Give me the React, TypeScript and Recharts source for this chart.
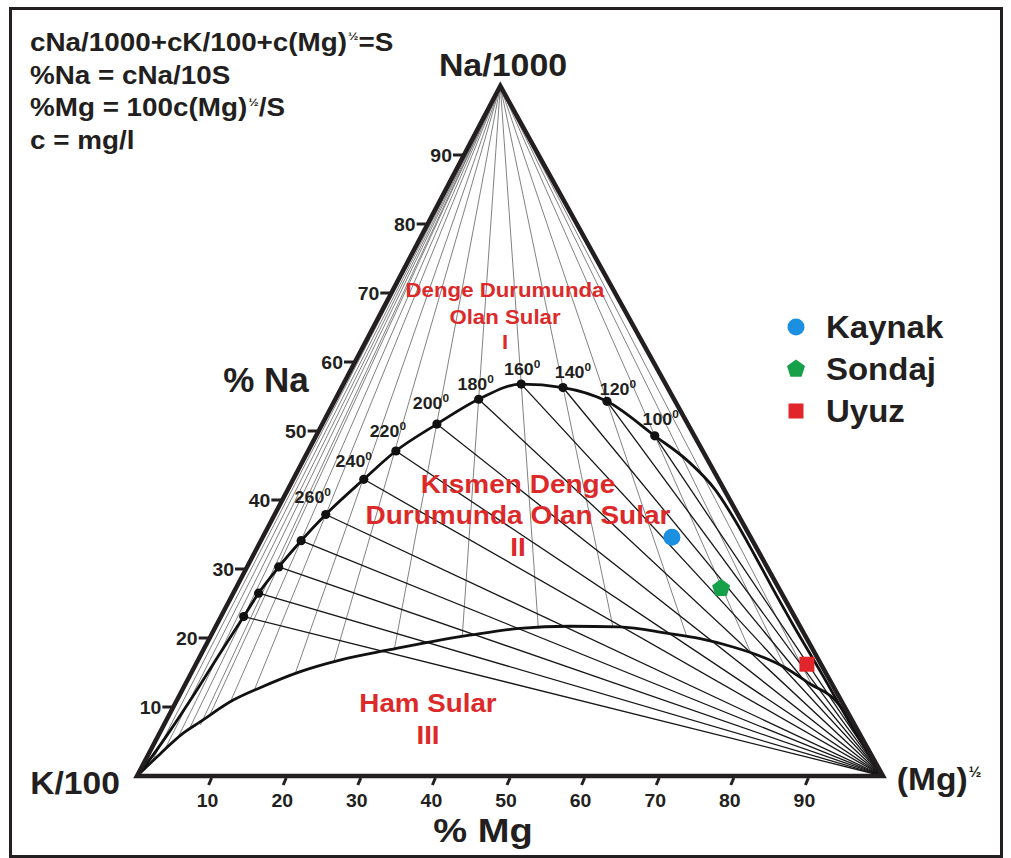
import React from 'react';
import { ScatterChart, Scatter, XAxis, YAxis } from 'recharts';

// Giggenbach Na-K-Mg diagram. x runs along the % Mg scale, y along the % Na scale.
const apex = { x: 48.7, y: 100 };
const cornerK = { x: 0, y: 0 };
const cornerMg = { x: 100, y: 0 };

const mgTicks = [10, 20, 30, 40, 50, 60, 70, 80, 90];
const naTicks = [10, 20, 30, 40, 50, 60, 70, 80, 90];

// full equilibrium line, temperature points (°C)
const eqTemps = [340, 320, 300, 280, 260, 240, 220, 200, 180, 160, 140, 120, 100];
const eqMg = [14.3, 16.3, 19.0, 22.0, 25.3, 30.4, 34.7, 40.2, 45.8, 51.5, 57.1, 63.0, 69.4];
const eqNa = [23.1, 26.5, 30.3, 34.1, 37.9, 43.0, 47.1, 51.0, 54.6, 56.8, 56.3, 54.3, 49.3];
const labelledTemps = [260, 240, 220, 200, 180, 160, 140, 120, 100];

// tails of the full equilibrium line towards K and Mg corners
const eqLowMg = [0, 2.0, 4.4, 7.4, 10.9];
const eqLowNa = [0, 2.8, 6.5, 11.4, 17.4];
const eqHighMg = [73.9, 77.5, 80.2, 82.8, 85.3, 87.9, 91.8, 95.5, 100];
const eqHighNa = [45.6, 41.5, 37.0, 32.0, 27.0, 22.0, 14.8, 7.8, 0];

// partial equilibrium boundary (immature waters)
const immMg = [0, 3.1, 6.2, 8.4, 12.9, 16.5, 21.8, 27.2, 33.9, 40.6, 44.6, 51.3, 58.0, 64.7, 71.0, 75.5, 79.9, 83.5, 86.9, 90.3, 93.3, 96.9, 100];
const immNa = [0, 3.2, 6.2, 7.8, 11.0, 12.8, 15.1, 16.8, 18.3, 19.7, 20.4, 21.4, 21.7, 21.6, 20.7, 19.9, 18.7, 17.4, 15.7, 13.3, 11.3, 5.9, 0];

// Na-K isotherms from the Na corner, ending on the immature water boundary
const tknEndMg = [2.0, 3.7, 5.4, 7.0, 8.5, 9.7, 12.5, 15.7, 21.2, 26.4, 34.5, 43.6, 53.8, 63.8, 73.7, 82.3, 86.9, 90.4];
const tknEndNa = [2.1, 3.8, 5.4, 6.8, 7.4, 8.7, 10.7, 12.4, 14.8, 16.6, 18.4, 20.2, 21.4, 21.6, 20.2, 17.8, 15.7, 13.3];

// samples
const sampleNames = ['Kaynak', 'Sondaj', 'Uyuz'];
const sampleMg = [71.7, 78.3, 89.8];
const sampleNa = [34.6, 27.2, 16.2];
const sampleColors = ['#1b8fe0', '#17a04a', '#e0262a'];
const sampleShapes = ['circle', 'pentagon', 'square'];

const FONT = '"Liberation Sans", Arial, sans-serif';
const ink = '#231f20';
const red = '#dc2a2a';

// temperature label offsets from their points (px)
const labelOffsets: Record<number, [number, number]> = {
    100: [6, -17], 120: [11, -12], 140: [10, -16], 160: [1, -15], 180: [-3, -15],
    200: [-6, -21], 220: [-8, -20], 240: [-10, -18], 260: [-13, -17],
};

const pts = (xs: number[], ys: number[]) => xs.map((x, i) => ({ x, y: ys[i] }));
const noDot = () => <g />;

const MarkerShape = ({ cx, cy, kind, color }: any) => {
    if (kind === 'circle') return <circle cx={cx} cy={cy} r={8.5} fill={color} />;
    if (kind === 'square') return <rect x={cx - 7.5} y={cy - 7.5} width={15} height={15} fill={color} />;
    const r = 9.5;
    const p = [0, 1, 2, 3, 4].map(k => {
        const a = -Math.PI / 2 + (k * 2 * Math.PI) / 5;
        return `${cx + r * Math.cos(a)},${cy + r * Math.sin(a)}`;
    }).join(' ');
    return <polygon points={p} fill={color} />;
};

const MgTick = ({ x, y, payload }: any) => (
    <g>
        <line x1={x} y1={y + 2} x2={x - 3} y2={y + 9} stroke={ink} strokeWidth={3} />
        <text transform={`translate(${x - 4},${y + 31}) scale(1.08,1)`} textAnchor="middle" fontFamily={FONT} fontWeight={700} fontSize={18} fill={ink}>{payload.value}</text>
    </g>
);

const NaTick = ({ cx, cy, payload }: any) => (
    <g>
        <line x1={cx - 11} y1={cy} x2={cx - 1} y2={cy} stroke={ink} strokeWidth={3} />
        <text transform={`translate(${cx - 12},${cy + 6.5}) scale(1.08,1)`} textAnchor="end" fontFamily={FONT} fontWeight={700} fontSize={18} fill={ink}>{payload.v}</text>
    </g>
);

const TempDot = ({ cx, cy, payload }: any) => {
    const off = labelOffsets[payload.t];
    return (
        <g>
            <circle cx={cx} cy={cy} r={4.6} fill="#111" />
            {off && labelledTemps.includes(payload.t) && (
                <text transform={`translate(${cx + off[0]},${cy + off[1] + 6}) scale(1.08,1)`} textAnchor="middle" fontFamily={FONT} fontWeight={700} fontSize={16.5} fill={ink}>
                    {payload.t}<tspan fontSize={11} dy={-7}>0</tspan>
                </text>
            )}
        </g>
    );
};

const Txt = ({ x, y, size, sx = 1, color = ink, children }: any) => (
    <div style={{
        position: 'absolute', left: x, top: y, transform: `translate(-50%,-50%) scaleX(${sx})`,
        fontSize: size, fontWeight: 700, color, whiteSpace: 'nowrap', lineHeight: 1, fontFamily: FONT,
    }}>{children}</div>
);

const Half = () => <sup style={{ fontSize: '0.45em', verticalAlign: '0.9em', marginLeft: 1 }}>½</sup>;

export default function App() {
    const eqLine = [...pts(eqLowMg, eqLowNa), ...pts(eqMg, eqNa), ...pts(eqHighMg, eqHighNa)];
    const eqDots = eqTemps.map((t, i) => ({ x: eqMg[i], y: eqNa[i], t }));
    const naTickPts = naTicks.map(v => ({ x: (apex.x * v) / 100, y: v, v }));
    const formula = [
        <>cNa/1000+cK/100+c(Mg)<Half />=S</>,
        <>%Na = cNa/10S</>,
        <>%Mg = 100c(Mg)<Half />/S</>,
        <>c = mg/l</>,
    ];

    return (
        <div style={{ position: 'absolute', left: 0, top: 0, width: 1011, height: 858, background: '#fff', fontFamily: FONT }}>
            <div style={{ position: 'absolute', left: 9, top: 7, width: 988, height: 845, border: `3px solid ${ink}` }} />
            <ScatterChart width={1011} height={858} margin={{ top: 86, right: 128, bottom: 52, left: 137 }} style={{ position: 'absolute', left: 0, top: 0 }}>
                <XAxis type="number" dataKey="x" domain={[0, 100]} ticks={mgTicks} interval={0} axisLine={false} tickLine={false} tickSize={0} tickMargin={0} height={30} tick={<MgTick />} />
                <YAxis type="number" dataKey="y" domain={[0, 100]} hide />

                {tknEndMg.map((m, i) => (
                    <Scatter key={`tkn-${i}`} data={[apex, { x: m, y: tknEndNa[i] }]} line={{ stroke: '#6a6a6a', strokeWidth: 0.85 }} shape={noDot} isAnimationActive={false} legendType="none" />
                ))}
                {eqDots.map((d, i) => (
                    <Scatter key={`tkm-${i}`} data={[cornerMg, { x: d.x, y: d.y }]} line={{ stroke: '#161616', strokeWidth: 1.3 }} shape={noDot} isAnimationActive={false} legendType="none" />
                ))}
                <Scatter data={pts(immMg, immNa)} line={{ stroke: '#111', strokeWidth: 2.8 }} lineJointType="monotoneX" shape={noDot} isAnimationActive={false} legendType="none" />
                <Scatter data={eqLine} line={{ stroke: '#111', strokeWidth: 2.8 }} lineJointType="monotoneX" shape={noDot} isAnimationActive={false} legendType="none" />
                <Scatter data={[cornerK, apex, cornerMg, cornerK, apex]} line={{ stroke: ink, strokeWidth: 4.5, strokeLinejoin: 'miter' }} shape={noDot} isAnimationActive={false} legendType="none" />
                <Scatter data={naTickPts} shape={<NaTick />} isAnimationActive={false} legendType="none" />
                <Scatter data={eqDots} shape={<TempDot />} isAnimationActive={false} legendType="none" />

                {sampleNames.map((n, i) => (
                    <Scatter key={n} name={n} data={[{ x: sampleMg[i], y: sampleNa[i] }]} isAnimationActive={false}
                        shape={(p: any) => <MarkerShape cx={p.cx} cy={p.cy} kind={sampleShapes[i]} color={sampleColors[i]} />} />
                ))}
            </ScatterChart>

            {formula.map((f, i) => (
                <div key={i} style={{
                    position: 'absolute', left: 30, top: 42 + i * 32.7, fontSize: 26, fontWeight: 700, lineHeight: 1,
                    color: ink, whiteSpace: 'nowrap', transform: 'translateY(-50%) scaleX(1.07)', transformOrigin: 'left center',
                }}>{f}</div>
            ))}

            <Txt x={503} y={65} size={32} sx={1.06}>Na/1000</Txt>
            <Txt x={266} y={379} size={35}>% Na</Txt>
            <Txt x={75} y={783} size={32} sx={1.05}>K/100</Txt>
            <Txt x={939} y={779} size={32} sx={1.05}>(Mg)<Half /></Txt>
            <Txt x={483} y={830} size={34} sx={1.12}>% Mg</Txt>

            <Txt x={505} y={291} size={19.5} sx={1.14} color={red}>Denge Durumunda</Txt>
            <Txt x={505} y={318} size={19.5} sx={1.14} color={red}>Olan Sular</Txt>
            <Txt x={505} y={343} size={19.5} sx={1.14} color={red}>I</Txt>
            <Txt x={518} y={484} size={25} sx={1.12} color={red}>Kısmen Denge</Txt>
            <Txt x={518} y={515} size={25} sx={1.12} color={red}>Durumunda Olan Sular</Txt>
            <Txt x={518} y={547} size={25} sx={1.12} color={red}>II</Txt>
            <Txt x={428} y={703} size={25} sx={1.11} color={red}>Ham Sular</Txt>
            <Txt x={428} y={735} size={25} sx={1.11} color={red}>III</Txt>

            {sampleNames.map((n, i) => (
                <div key={n} style={{ position: 'absolute', left: 782, top: 312 + i * 42, height: 30, display: 'flex', alignItems: 'center' }}>
                    <svg width={28} height={30}>
                        <MarkerShape cx={14} cy={15} kind={sampleShapes[i]} color={sampleColors[i]} />
                    </svg>
                    <span style={{ marginLeft: 16, fontSize: 32, fontWeight: 700, color: ink, display: 'inline-block', transform: 'scaleX(1.03)', transformOrigin: 'left center' }}>{n}</span>
                </div>
            ))}
        </div>
    );
}
